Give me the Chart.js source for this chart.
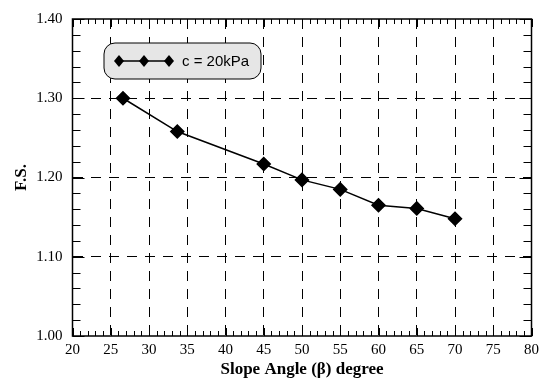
<!DOCTYPE html>
<html><head><meta charset="utf-8">
<script src="https://cdn.jsdelivr.net/npm/chart.js@4"></script>
<style>html,body{margin:0;padding:0;background:#fff}#wrap{width:544px;height:380px;position:relative}</style>
</head><body><div id="wrap"><canvas id="c" width="544" height="380"></canvas></div>
<script>
const slopeAngles = [26.6, 33.7, 45, 50, 55, 60, 65, 70];
const fsValues = [1.300, 1.258, 1.217, 1.197, 1.185, 1.165, 1.161, 1.148];
const seriesName = 'c = 20kPa';
const xTicks = [20, 25, 30, 35, 40, 45, 50, 55, 60, 65, 70, 75, 80];
const yTicks = [1.00, 1.10, 1.20, 1.30, 1.40];

const framePlugin = {
  id: 'frame',
  afterDraw(chart) {
    const {ctx, chartArea: a, scales: {x, y}} = chart;
    ctx.save();
    ctx.strokeStyle = '#000';
    ctx.lineWidth = 1;
    ctx.beginPath();
    for (let v = 20; v <= 80; v += 1) {
      const px = Math.round(x.getPixelForValue(v)) + 0.5;
      const len = (v % 5 === 0) ? 8 : 5;
      ctx.moveTo(px, a.bottom); ctx.lineTo(px, a.bottom - len);
      ctx.moveTo(px, a.top); ctx.lineTo(px, a.top + len);
    }
    for (let i = 0; i <= 20; i++) {
      const v = 1.0 + i * 0.02;
      const py = Math.round(y.getPixelForValue(v)) + 0.5;
      const len = (i % 5 === 0) ? 12 : 8;
      ctx.moveTo(a.left, py); ctx.lineTo(a.left + len, py);
      ctx.moveTo(a.right, py); ctx.lineTo(a.right - len, py);
    }
    ctx.stroke();
    ctx.lineWidth = 1.5;
    ctx.strokeRect(a.left, a.top, a.right - a.left, a.bottom - a.top);
    // legend
    const lx = 104, ly = 43, lw = 157, lh = 36, r = 11;
    ctx.beginPath();
    ctx.roundRect(lx, ly, lw, lh, r);
    ctx.fillStyle = '#e6e6e6';
    ctx.fill();
    ctx.lineWidth = 1;
    ctx.strokeStyle = '#000';
    ctx.stroke();
    const my = ly + lh / 2;
    ctx.beginPath();
    ctx.moveTo(119, my); ctx.lineTo(169, my);
    ctx.lineWidth = 1.5;
    ctx.stroke();
    ctx.fillStyle = '#000';
    [119, 144, 169].forEach(cx => {
      ctx.beginPath();
      ctx.moveTo(cx, my - 6); ctx.lineTo(cx + 5, my); ctx.lineTo(cx, my + 6); ctx.lineTo(cx - 5, my);
      ctx.closePath(); ctx.fill();
    });
    ctx.font = '15px "Liberation Sans", Arial, sans-serif';
    ctx.textBaseline = 'middle';
    ctx.textAlign = 'left';
    ctx.fillText(seriesName, 182, my + 1);
    ctx.restore();
  }
};

const serif = '"Liberation Serif", "Times New Roman", serif';

new Chart(document.getElementById('c'), {
  type: 'line',
  data: {
    datasets: [{
      label: seriesName,
      data: slopeAngles.map((a, i) => ({x: a, y: fsValues[i]})),
      borderColor: '#000',
      backgroundColor: '#000',
      borderWidth: 1.5,
      pointStyle: 'rectRot',
      pointRadius: 6.5,
      pointHoverRadius: 6.5,
      tension: 0,
    }]
  },
  options: {
    responsive: false,
    animation: false,
    events: [],
    layout: {padding: {left: 0, right: 12, top: 14, bottom: 0}},
    plugins: {legend: {display: false}, tooltip: {enabled: false}},
    scales: {
      x: {
        type: 'linear', min: 20, max: 80,
        afterBuildTicks: (s) => { s.ticks = xTicks.map(v => ({value: v})); },
        ticks: {color: '#000', font: {family: serif, size: 15}, padding: 5, maxRotation: 0, autoSkip: false, callback: v => String(v)},
        grid: {drawTicks: false, color: (c) => (c.tick && (c.tick.value === 20 || c.tick.value === 80)) ? 'rgba(0,0,0,0)' : '#000', lineWidth: 1},
        border: {display: false, dash: [10, 8]},
        title: {display: true, text: 'Slope Angle (β) degree', color: '#000', font: {family: serif, size: 17, weight: 'bold'}, padding: {top: 2, bottom: 0}},
        afterFit: (s) => { s.height = 44; },
      },
      y: {
        type: 'linear', min: 1.0, max: 1.4,
        afterBuildTicks: (s) => { s.ticks = yTicks.map(v => ({value: v})); },
        ticks: {color: '#000', font: {family: serif, size: 15}, padding: 10, callback: v => Number(v).toFixed(2)},
        grid: {drawTicks: false, color: (c) => (c.tick && (Math.abs(c.tick.value - 1.0) < 1e-6 || Math.abs(c.tick.value - 1.4) < 1e-6)) ? 'rgba(0,0,0,0)' : '#000', lineWidth: 1},
        border: {display: false, dash: [10, 8]},
        title: {display: true, text: 'F.S.', color: '#000', font: {family: serif, size: 17, weight: 'bold'}, padding: {top: 11, bottom: 0}},
        afterFit: (s) => { s.width = 72.5; },
      }
    }
  },
  plugins: [framePlugin]
});
</script></body></html>
